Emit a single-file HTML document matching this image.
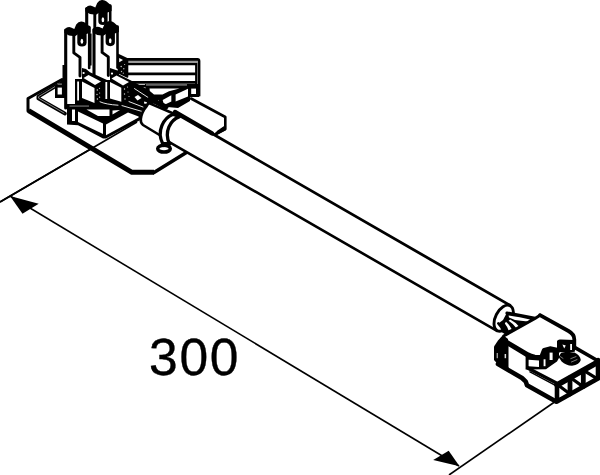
<!DOCTYPE html>
<html>
<head>
<meta charset="utf-8">
<style>
html,body{margin:0;padding:0;background:#fff;}
body{width:600px;height:475px;overflow:hidden;position:relative;font-family:"Liberation Sans",sans-serif;}
svg{position:absolute;left:0;top:0;display:block;}
#dim{position:absolute;left:149px;top:327.6px;font-size:51.6px;line-height:58px;color:#000;letter-spacing:1.7px;-webkit-text-stroke:0.35px #000;white-space:nowrap;}
</style>
</head>
<body>
<svg width="600" height="475" viewBox="0 0 600 475" fill="none" stroke="#000" stroke-linecap="round" stroke-linejoin="round">
<rect x="0" y="0" width="600" height="475" fill="#fff" stroke="none"/>

<!-- DIMENSION LINES -->
<g id="dims" stroke-width="1.6" stroke-linecap="butt">
  <line x1="0" y1="202" x2="137" y2="122"/>
  <line x1="10" y1="196" x2="459" y2="466"/>
  <line x1="449" y1="475" x2="556" y2="401"/>
  <polygon points="10,196 38.7,203.7 22.5,213.7" fill="#000" stroke="none"/>
  <polygon points="459.5,466.2 448.7,450.7 433.2,460" fill="#000" stroke="none"/>
</g>

<!-- BASE PLATE -->
<g id="plate" stroke-width="3">
  <path d="M53,85 L28,98.5 L28,111 L132,172.5 L154,172.5 L225.3,129 L225.3,117 L191,98.5 L120,60 Z" fill="#fff" stroke="none"/>
  <path d="M62,79.5 L28,98.5 L28,111" stroke-width="3"/>
  <path d="M28.6,110.6 L132,172.3 L154,172.3" stroke-width="5" stroke-linecap="butt"/>
  <path d="M154,172.5 L188,151.5" stroke-width="3.6"/>
  <path d="M191,98.5 L225.3,117 L225.3,129 L215,134.5" stroke-width="2.6"/>
  <path d="M225.3,126 L225.3,129.5 L214,135.5 L218,131 Z" fill="#000" stroke-width="1.5"/>
  <ellipse cx="164" cy="148.7" rx="6.3" ry="3.4" stroke-width="3.5"/>
  <!-- inner flange rim -->
  <path d="M56,86 L38.3,96.6 L38.3,98.4 L65,113.6" stroke-width="3.6"/>
  <path d="M56,86 L38.6,96.6 L38.6,98.2 L64,113" stroke="#ddd" stroke-width="0.6"/>
</g>

<!-- REAR BLOCK -->
<g id="rear" stroke-width="2.4" stroke-linecap="butt">
  <path d="M119,55 L127,59 L198,59 L199,60 L199,96.3 L191,96.3 L191,86 L127,86 L119,82 Z" fill="#fff" stroke="none"/>
  <rect x="127" y="60" width="70" height="3.6" fill="#999" stroke="none"/>
  <path d="M126,59.4 L197.5,59.4 Q199,59.4 199,61 L199,96.3" stroke-width="2.8"/>
  <line x1="127" y1="64.15" x2="197" y2="64.15" stroke-width="2.1"/>
  <line x1="127" y1="73.95" x2="196" y2="73.95" stroke-width="2.7"/>
  <line x1="127" y1="82.4" x2="197" y2="82.4" stroke-width="2.6"/>
  <line x1="131" y1="86" x2="199" y2="86" stroke-width="2.4"/>
  <line x1="196.2" y1="63" x2="196.2" y2="84" stroke-width="2.2"/>
  <rect x="191.3" y="86.6" width="7.2" height="9.2" stroke-width="2.2"/>
  <!-- left hatched side -->
  <path d="M118,54.5 L127.5,59 L127.5,77 L118,72.5 Z" fill="#000" stroke-width="1.6"/>
  <path d="M119.2,58 L123,60.1 L119.2,62.2 Z" fill="#fff" stroke="none"/>
  <g fill="#bbb" stroke="none">
   <circle cx="121.2" cy="66.5" r="0.8"/><circle cx="123.8" cy="68.8" r="0.7"/><circle cx="121.5" cy="71.5" r="0.7"/><circle cx="124.6" cy="64.5" r="0.6"/><circle cx="123.3" cy="73.2" r="0.6"/>
  </g>
</g>

<!-- PINS -->

<g id="pins">
  <g transform="translate(21,-21.5)">
  <!-- body fill -->
  <path d="M65.7,30 L89.3,26 L89.3,86 L65.7,108 Z" fill="#fff" stroke="none"/>
  <!-- outline edges -->
  <path d="M65.7,30 L65.7,108" stroke-width="3.1"/>
  <path d="M89.2,27 L89.2,68" stroke-width="2.6"/>
  <path d="M73.8,33 L73.8,52.8 L80,57.3 L80,76" stroke-width="2.9"/>
  <!-- slot -->
  <path d="M77.3,28 L86.6,28 L86.6,42.5 Q86.6,46.6 82,46.6 Q77.3,46.6 77.3,42.5 Z" fill="#000" stroke="none"/>
  <ellipse cx="81.9" cy="41.2" rx="1.3" ry="2.5" fill="#fff" stroke="none"/>
  <!-- top blob -->
  <path d="M64.4,33 L64.4,29.8 L66.8,27.6 Q69,26.6 71,27.4 L74.3,29 L76.2,24.6 Q78.5,21.3 81.5,21.5 Q84,21.6 85.6,23 L90.6,27.3 L90.6,32.4 L86.5,34 L78,34.2 L75,36.2 L69,35.4 Z" fill="#000" stroke="none"/>
 </g>
  <!-- thin line between A and C (lower part of pin B) -->
  <path d="M90.8,34 L90.8,65" stroke-width="1.6"/>
  <g transform="translate(28.3,-0.4)">
  <!-- body fill -->
  <path d="M65.7,30 L89.3,26 L89.3,86 L65.7,108 Z" fill="#fff" stroke="none"/>
  <!-- outline edges -->
  <path d="M65.7,30 L65.7,108" stroke-width="3.1"/>
  <path d="M89.2,27 L89.2,68" stroke-width="2.6"/>
  <path d="M73.8,33 L73.8,52.8 L80,57.3 L80,76" stroke-width="2.9"/>
  <!-- slot -->
  <path d="M77.3,28 L86.6,28 L86.6,42.5 Q86.6,46.6 82,46.6 Q77.3,46.6 77.3,42.5 Z" fill="#000" stroke="none"/>
  <ellipse cx="81.9" cy="41.2" rx="1.3" ry="2.5" fill="#fff" stroke="none"/>
  <!-- top blob -->
  <path d="M64.4,33 L64.4,29.8 L66.8,27.6 Q69,26.6 71,27.4 L74.3,29 L76.2,24.6 Q78.5,21.3 81.5,21.5 Q84,21.6 85.6,23 L90.6,27.3 L90.6,32.4 L86.5,34 L78,34.2 L75,36.2 L69,35.4 Z" fill="#000" stroke="none"/>
 </g>
  <g>
  <!-- body fill -->
  <path d="M65.7,30 L89.3,26 L89.3,86 L65.7,108 Z" fill="#fff" stroke="none"/>
  <!-- outline edges -->
  <path d="M65.7,30 L65.7,108" stroke-width="3.1"/>
  <path d="M89.2,27 L89.2,68" stroke-width="2.6"/>
  <path d="M73.8,33 L73.8,52.8 L80,57.3 L80,76" stroke-width="2.9"/>
  <!-- slot -->
  <path d="M77.3,28 L86.6,28 L86.6,42.5 Q86.6,46.6 82,46.6 Q77.3,46.6 77.3,42.5 Z" fill="#000" stroke="none"/>
  <ellipse cx="81.9" cy="41.2" rx="1.3" ry="2.5" fill="#fff" stroke="none"/>
  <!-- top blob -->
  <path d="M64.4,33 L64.4,29.8 L66.8,27.6 Q69,26.6 71,27.4 L74.3,29 L76.2,24.6 Q78.5,21.3 81.5,21.5 Q84,21.6 85.6,23 L90.6,27.3 L90.6,32.4 L86.5,34 L78,34.2 L75,36.2 L69,35.4 Z" fill="#000" stroke="none"/>
 </g>
</g>

<!-- HOUSING -->
<g id="housing" stroke="none">
  <!-- black mass -->
  <path d="M55,85.5 L62.5,80 L62.5,65 L67,65 L67,104 L75,104 L75,79 L82,79 L82,68 L86,69 L90,72.2 L107,80 L110,80 L110,68 L119,71 L119,74.6 L132,81 L146,88.5 L160,99 L150,106 L141,113 L140.4,120 L106,138.5 L103,138.5 L78,125.2 L67,124.6 L67,98 L55,98 Z" fill="#000"/>
  <!-- window W2 -->
  <rect x="57.6" y="87.6" width="4.3" height="6.9" fill="#fff"/>
  <rect x="57.6" y="83.6" width="4.3" height="1" fill="#aaa"/>
  <!-- strip W6 -->
  <rect x="77.2" y="81.5" width="1.8" height="19" fill="#fff"/>
  <rect x="105.4" y="82" width="1.8" height="17" fill="#fff"/>
  <!-- box 1 -->
  <path d="M82,81.5 L94.5,88 L94.5,103 L82,98 Z" fill="#fff"/>
  <path d="M83.5,78 L88.5,75 L101,81.5 L95,85 Z" fill="#fff"/>
  <!-- box 2 -->
  <path d="M110,82 L121.3,87.7 L121.3,101.7 L110,98.5 Z" fill="#fff"/>
  <path d="M111.5,78.5 L116.5,75.5 L129,82 L123,85.5 Z" fill="#fff"/>
  <!-- screws -->
  <circle cx="83.6" cy="73" r="1.1" fill="#fff"/>
  <circle cx="112" cy="73.6" r="1.1" fill="#fff"/>
  <!-- hatch dots -->
  <g fill="#ccc">
   <circle cx="97.3" cy="90" r="0.7"/><circle cx="99.5" cy="88.3" r="0.6"/><circle cx="97" cy="94.5" r="0.7"/><circle cx="99.6" cy="93" r="0.6"/><circle cx="97.4" cy="99" r="0.7"/><circle cx="99.6" cy="97.2" r="0.6"/>
   <circle cx="124.5" cy="89" r="0.7"/><circle cx="127.5" cy="87" r="0.6"/><circle cx="124.5" cy="94" r="0.7"/><circle cx="128" cy="92" r="0.6"/><circle cx="125" cy="99" r="0.7"/><circle cx="129" cy="96.5" r="0.6"/>
  </g>
  <!-- lower housing -->
  <rect x="72" y="109.5" width="3" height="11.5" fill="#fff"/>
  <rect x="69.5" y="105.6" width="19.5" height="0.9" fill="#999"/>
  <path d="M78,111.5 L103,123.5 L103,134 L78,122 Z" fill="#fff"/>
  <path d="M86.5,109.5 L109.5,109.5 L109.5,116 L98,116 Z" fill="#fff"/>
  <path d="M112.5,110.5 L120,110 L112.5,114.5 Z" fill="#fff"/>
  <path d="M106,124.5 L128,112.6 L138.6,116.4 L138.6,117.4 L106,135.2 Z" fill="#fff"/>
  <!-- wire highlights -->
  <g stroke="#fff" stroke-width="0.9" fill="none">
   <path d="M100,101.8 Q106,104.5 118,105.2"/>
   <path d="M122,105.6 L144,112"/>
   <path d="M129,101.6 L143,107"/>
   <path d="M134.5,88.6 L152,100"/>
  </g>
  <path d="M134.5,97 L138,95 L141.5,98 L137.5,100.5 Z" fill="#fff"/>
  <path d="M144.2,101.6 L147,102.2 L146.4,103.7 L144,103.4 Z" fill="#fff"/>
</g>

<!-- REAR LOWER CLIP -->
<g id="clip" stroke="none">
  <path d="M145,84 L199,84 L199,97 L190,97 L190,101 L178,108 L162,106.5 L158,99 L146,92 Z" fill="#000"/>
  <rect x="146" y="84.6" width="41" height="0.7" fill="#fff"/>
  <path d="M149.5,88.6 L179.5,88.6 L169,91.2 L162.5,94.6 L154,94.6 L149.8,91 Z" fill="#fff"/>
  <path d="M162.7,100 L171.3,95.2 L171.3,101.6 L164,105 Z" fill="#fff"/>
  <path d="M175.6,94.6 L188,88.7 L188,96.4 L175.6,101.6 Z" fill="#fff"/>
  <rect x="191.2" y="88.6" width="4.8" height="5.4" fill="#fff"/>
</g>

<!-- CABLE -->
<g id="cable" stroke-width="2.6">
  <path d="M176,112.8 L510,305.3 L497,330.8 L168,141.3 Z" fill="#fff" stroke="none"/>
  <line x1="176" y1="112.8" x2="510" y2="305.3" stroke-width="2.8"/>
  <line x1="168" y1="141.3" x2="497" y2="330.8"/>
  <path d="M175,112 L212,133.4" stroke-width="4.4"/>
  <path d="M150,99 L166,107" stroke-width="5"/>
  <!-- sleeve -->
  <path d="M149.5,103.4 L174,113.8 L162,136.5 L143,125 Q140.4,123 140.8,119 Q141.6,112 146.5,106.4 Q148.2,103.2 149.5,103.4 Z" fill="#fff" stroke-width="2.6"/>
  <!-- ring -->
  <path d="M173,114.2 C163.4,118 156.4,131 162.6,143.4 L169.4,144 C163.8,131.5 170.4,120 179.5,116.6 Z" fill="#fff" stroke-width="3.3"/>
  <path d="M162.8,143.4 L164,146 M169.4,144 L168.8,146.4" stroke-width="2.4"/>
  <!-- end ellipse -->
  <ellipse cx="503.7" cy="318.2" rx="14" ry="8.2" transform="rotate(117 503.7 318.2)" fill="#fff" stroke-width="2.9"/>
</g>

<!-- WIRES AT CABLE END -->
<g id="endwires">
  <path d="M507,312.5 L535,318.3 L505,335.5 L503,331 L499,323 L503,320 Z" fill="#000" stroke="none"/>
  <path d="M507,313 L535,318.2" stroke-width="3.2"/>
  <path d="M508.6,315.4 Q520,317 530,319.6 L528,321.4 Q520,320.6 515,320 L509,317.6 Z" fill="#fff" stroke="none"/>
  <path d="M510.2,319.4 Q515.5,322 519.2,326.8 L516.4,328.3 Q513,323.5 508.6,320.8 Z" fill="#fff" stroke="none"/>
  <path d="M506,321.8 Q509.5,325 511.6,329 L508.5,330.3 Q507,326 504.8,323.4 Z" fill="#fff" stroke="none"/>
  <path d="M498.3,323.3 Q502,327 503.5,332" stroke-width="2.6"/>
</g>

<!-- RIGHT CONNECTOR -->
<g id="conn">
  <path d="M503,336 L535,318.5 L540,315 L569,331 Q574,334 574,339 L574,348 L600,362 L600,378 L556,402 L527,385.5 L526,382 L522,378 L498,364 L494.5,360 L494.5,347 L498,341 Z" fill="#fff" stroke="none"/>
  <path d="M504,335.8 L535,318.5 L540,315.2" stroke-width="3"/>
  <path d="M540,315.2 L568.5,331 Q574.3,334.2 574.3,339.5 L574.3,348" stroke-width="3.8"/>
  <path d="M575,347.6 L600,362" stroke-width="3.6"/>
  <!-- left mass -->
  <path d="M503,335 L498,340.5 L494,346.5 L494,360 L498.5,365 L508.5,368.5 L508.5,345 L508,339 Z" fill="#000" stroke="none"/>
  <rect x="496.6" y="353" width="1.4" height="5.2" fill="#999" stroke="none"/>
  <rect x="504.6" y="354" width="1.5" height="4.2" fill="#ddd" stroke="none"/>
  <!-- front-top band -->
  <path d="M506,342 L527,354.5 Q531,356.8 535,357.2 L541.5,357.6 L544.3,350.4 L550,348.8 L558,350.4" stroke-width="5"/>
  <!-- bottom-left edge -->
  <path d="M498,364 L522,378 L525.8,381.6 L527,385.3 L556,401.5" stroke-width="4.6"/>
  <!-- window block -->
  <path d="M525.6,356 L541,357 L543.5,349 L557,349.5 L559,353 L559,358 L557,361.6 L550.5,366 L546,369.2 L525.6,369.6 Z" fill="#000" stroke="none"/>
  <path d="M528.6,359.7 L539,360.5 L539,367 L528.6,366.2 Z" fill="#fff" stroke="none"/>
  <rect x="543.6" y="359.3" width="1.9" height="6.9" fill="#fff" stroke="none"/>
  <rect x="549.6" y="352.6" width="3" height="7.4" fill="#fff" stroke="none"/>
  <!-- double line -->
  <path d="M527.6,368 L556.4,382.9" stroke-width="3.4"/>
  <path d="M530,371.8 L555.4,385.4" stroke-width="1.5"/>
  <!-- latch block -->
  <path d="M557,341 Q558,339 561,339.6 L574,340 L575,351.5 L568,353.5 L557,351.5 Z" fill="#000" stroke="none"/>
  <path d="M562.4,344.4 L565.8,345.6 L564.2,348.6 Z" fill="#fff" stroke="none"/>
  <rect x="570.2" y="344" width="1.8" height="6" fill="#fff" stroke="none"/>
  <path d="M558.6,357 L561,353 L574.5,352.6 Q580.2,355.4 580.8,360 Q579.6,364.6 572,365.7 Q566,365.4 561.6,361.4 Z" fill="#000" stroke="none"/>
  <path d="M570.8,358.6 L576,356.6 M571.4,362 L577,359.6 M560.4,356.6 L563,358.4" stroke="#888" stroke-width="0.9"/>
  <!-- socket face -->
  <path d="M557,385 L598,362" stroke-width="5.6"/>
  <path d="M598,360 L598,378.5 L557,401.5 L557,385" stroke-width="4.6"/>
  <path d="M570,378 L570,394 M583.3,370.5 L583.3,386.5" stroke-width="4.8"/>
  <path d="M558,385 L570,394 M571,378 L583,386.6 M584,370.6 L597,378.6" stroke-width="3.3"/>
</g>

<g stroke-width="1.6" stroke-linecap="butt"><line x1="0" y1="202" x2="137" y2="122"/></g>
</svg>
<div id="dim">300</div>
</body>
</html>
